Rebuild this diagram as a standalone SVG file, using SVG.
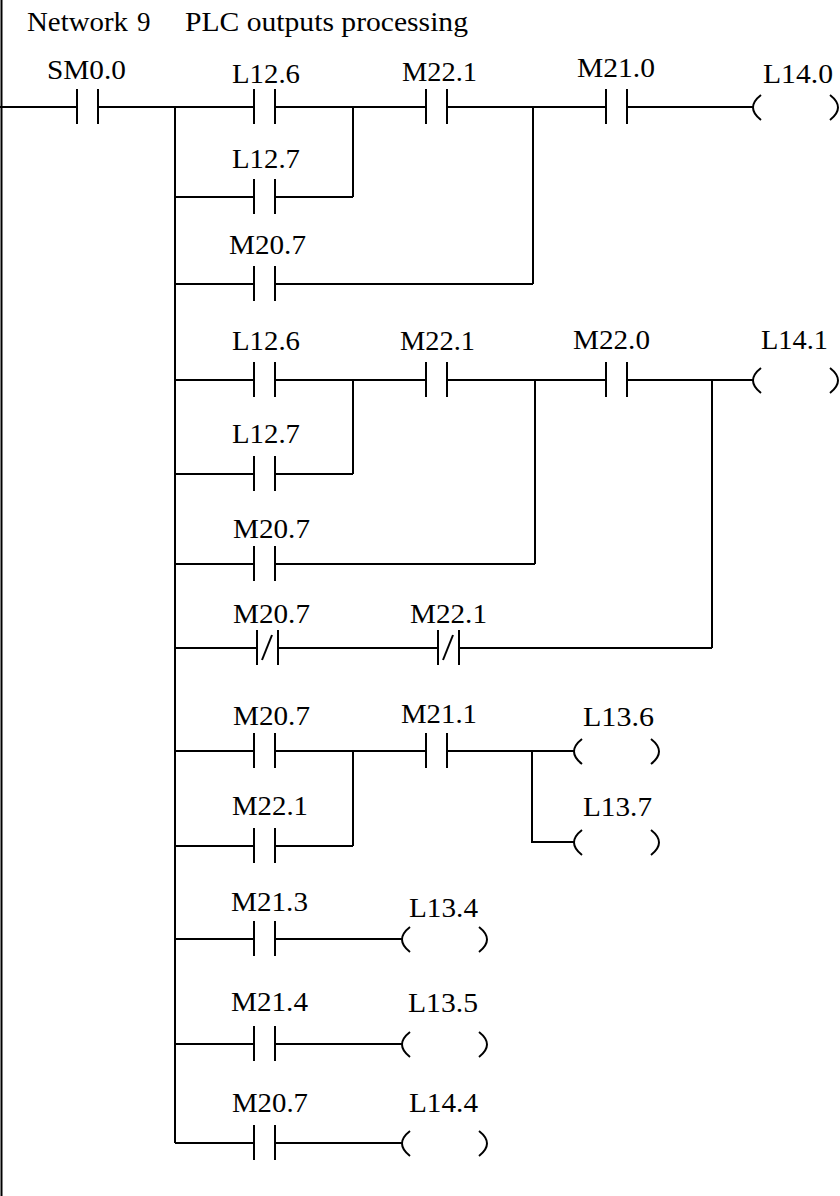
<svg xmlns="http://www.w3.org/2000/svg" width="840" height="1196" viewBox="0 0 840 1196">
<style>
.w{stroke:#000;stroke-width:2;fill:none;stroke-linecap:butt}
.p{stroke:#000;stroke-width:2;fill:none}
.t{font-family:"Liberation Serif","Times New Roman",serif;font-size:27px;fill:#000}
</style>
<defs>
<g id="no"><line class="p" x1="0" y1="-18" x2="0" y2="17"/><line class="p" x1="21" y1="-18" x2="21" y2="17"/></g>
<g id="nc"><line class="p" x1="0" y1="-18" x2="0" y2="17"/><line class="p" x1="21" y1="-18" x2="21" y2="17"/><line class="p" x1="5" y1="12" x2="15" y2="-13"/></g>
<g id="coil"><path class="p" d="M8,-12 Q-8,0.5 8,13"/><path class="p" d="M77,-12 Q93,0.5 77,13"/></g>
</defs>
<rect width="840" height="1196" fill="#fff"/>
<text id="title" class="t" y="31"><tspan x="27" textLength="101" lengthAdjust="spacingAndGlyphs">Network</tspan> <tspan x="137">9</tspan> <tspan x="185" textLength="283" lengthAdjust="spacingAndGlyphs">PLC outputs processing</tspan></text>

<g id="connectors">
<path class="w" d="M1.5,0V1196"/>
<path class="w" d="M0,107H77M98,107H254M275,107H426M447,107H606M627,107H753"/>
<path class="w" d="M175,107V1143"/>
<path class="w" d="M353,107V197M175,197H254M275,197H353"/>
<path class="w" d="M533,107V284M175,284H254M275,284H533"/>
<path class="w" d="M175,380H254M275,380H426M447,380H606M627,380H753"/>
<path class="w" d="M353,380V474M175,474H254M275,474H353"/>
<path class="w" d="M535,380V564M175,564H254M275,564H535"/>
<path class="w" d="M712,380V648M175,648H257M278,648H438M459,648H712"/>
<path class="w" d="M175,751H254M275,751H426M447,751H574"/>
<path class="w" d="M353,751V846M175,846H254M275,846H353"/>
<path class="w" d="M532,751V842H574"/>
<path class="w" d="M175,939H254M275,939H402"/>
<path class="w" d="M175,1044H254M275,1044H402"/>
<path class="w" d="M175,1143H254M275,1143H402"/>
</g>

<g id="c-SM0.0"><use href="#no" x="77" y="107"/><text class="t" x="47" y="79" textLength="79" lengthAdjust="spacingAndGlyphs">SM0.0</text></g>
<g id="c-L12.6-a"><use href="#no" x="254" y="107"/><text class="t" x="232" y="83" textLength="68" lengthAdjust="spacingAndGlyphs">L12.6</text></g>
<g id="c-M22.1-a"><use href="#no" x="426" y="107"/><text class="t" x="402" y="81" textLength="75" lengthAdjust="spacingAndGlyphs">M22.1</text></g>
<g id="c-M21.0"><use href="#no" x="606" y="107"/><text class="t" x="577" y="77" textLength="78" lengthAdjust="spacingAndGlyphs">M21.0</text></g>
<g id="q-L14.0"><use href="#coil" x="753" y="107"/><text class="t" x="763" y="83" textLength="70" lengthAdjust="spacingAndGlyphs">L14.0</text></g>
<g id="c-L12.7-a"><use href="#no" x="254" y="197"/><text class="t" x="232" y="168" textLength="68" lengthAdjust="spacingAndGlyphs">L12.7</text></g>
<g id="c-M20.7-a"><use href="#no" x="254" y="284"/><text class="t" x="229" y="254" textLength="77" lengthAdjust="spacingAndGlyphs">M20.7</text></g>

<g id="c-L12.6-b"><use href="#no" x="254" y="380"/><text class="t" x="232" y="350" textLength="68" lengthAdjust="spacingAndGlyphs">L12.6</text></g>
<g id="c-M22.1-b"><use href="#no" x="426" y="380"/><text class="t" x="400" y="350" textLength="75" lengthAdjust="spacingAndGlyphs">M22.1</text></g>
<g id="c-M22.0"><use href="#no" x="606" y="380"/><text class="t" x="573" y="349" textLength="77" lengthAdjust="spacingAndGlyphs">M22.0</text></g>
<g id="q-L14.1"><use href="#coil" x="753" y="380"/><text class="t" x="761" y="349" textLength="67" lengthAdjust="spacingAndGlyphs">L14.1</text></g>
<g id="c-L12.7-b"><use href="#no" x="254" y="474"/><text class="t" x="232" y="443" textLength="68" lengthAdjust="spacingAndGlyphs">L12.7</text></g>
<g id="c-M20.7-b"><use href="#no" x="254" y="564"/><text class="t" x="233" y="538" textLength="77" lengthAdjust="spacingAndGlyphs">M20.7</text></g>
<g id="c-M20.7-nc"><use href="#nc" x="257" y="648"/><text class="t" x="233" y="623" textLength="77" lengthAdjust="spacingAndGlyphs">M20.7</text></g>
<g id="c-M22.1-nc"><use href="#nc" x="438" y="648"/><text class="t" x="410" y="623" textLength="77" lengthAdjust="spacingAndGlyphs">M22.1</text></g>

<g id="c-M20.7-c"><use href="#no" x="254" y="751"/><text class="t" x="233" y="725" textLength="77" lengthAdjust="spacingAndGlyphs">M20.7</text></g>
<g id="c-M21.1"><use href="#no" x="426" y="751"/><text class="t" x="401" y="723" textLength="76" lengthAdjust="spacingAndGlyphs">M21.1</text></g>
<g id="q-L13.6"><use href="#coil" x="574" y="751"/><text class="t" x="583" y="726" textLength="71" lengthAdjust="spacingAndGlyphs">L13.6</text></g>
<g id="c-M22.1-c"><use href="#no" x="254" y="846"/><text class="t" x="232" y="815" textLength="76" lengthAdjust="spacingAndGlyphs">M22.1</text></g>
<g id="q-L13.7"><use href="#coil" x="574" y="842"/><text class="t" x="583" y="816" textLength="69" lengthAdjust="spacingAndGlyphs">L13.7</text></g>

<g id="c-M21.3"><use href="#no" x="254" y="939"/><text class="t" x="231" y="911" textLength="77" lengthAdjust="spacingAndGlyphs">M21.3</text></g>
<g id="q-L13.4"><use href="#coil" x="402" y="939"/><text class="t" x="409" y="917" textLength="69" lengthAdjust="spacingAndGlyphs">L13.4</text></g>
<g id="c-M21.4"><use href="#no" x="254" y="1044"/><text class="t" x="231" y="1011" textLength="77" lengthAdjust="spacingAndGlyphs">M21.4</text></g>
<g id="q-L13.5"><use href="#coil" x="402" y="1044"/><text class="t" x="408" y="1012" textLength="70" lengthAdjust="spacingAndGlyphs">L13.5</text></g>
<g id="c-M20.7-d"><use href="#no" x="254" y="1143"/><text class="t" x="232" y="1112" textLength="76" lengthAdjust="spacingAndGlyphs">M20.7</text></g>
<g id="q-L14.4"><use href="#coil" x="402" y="1143"/><text class="t" x="409" y="1112" textLength="69" lengthAdjust="spacingAndGlyphs">L14.4</text></g>
</svg>
